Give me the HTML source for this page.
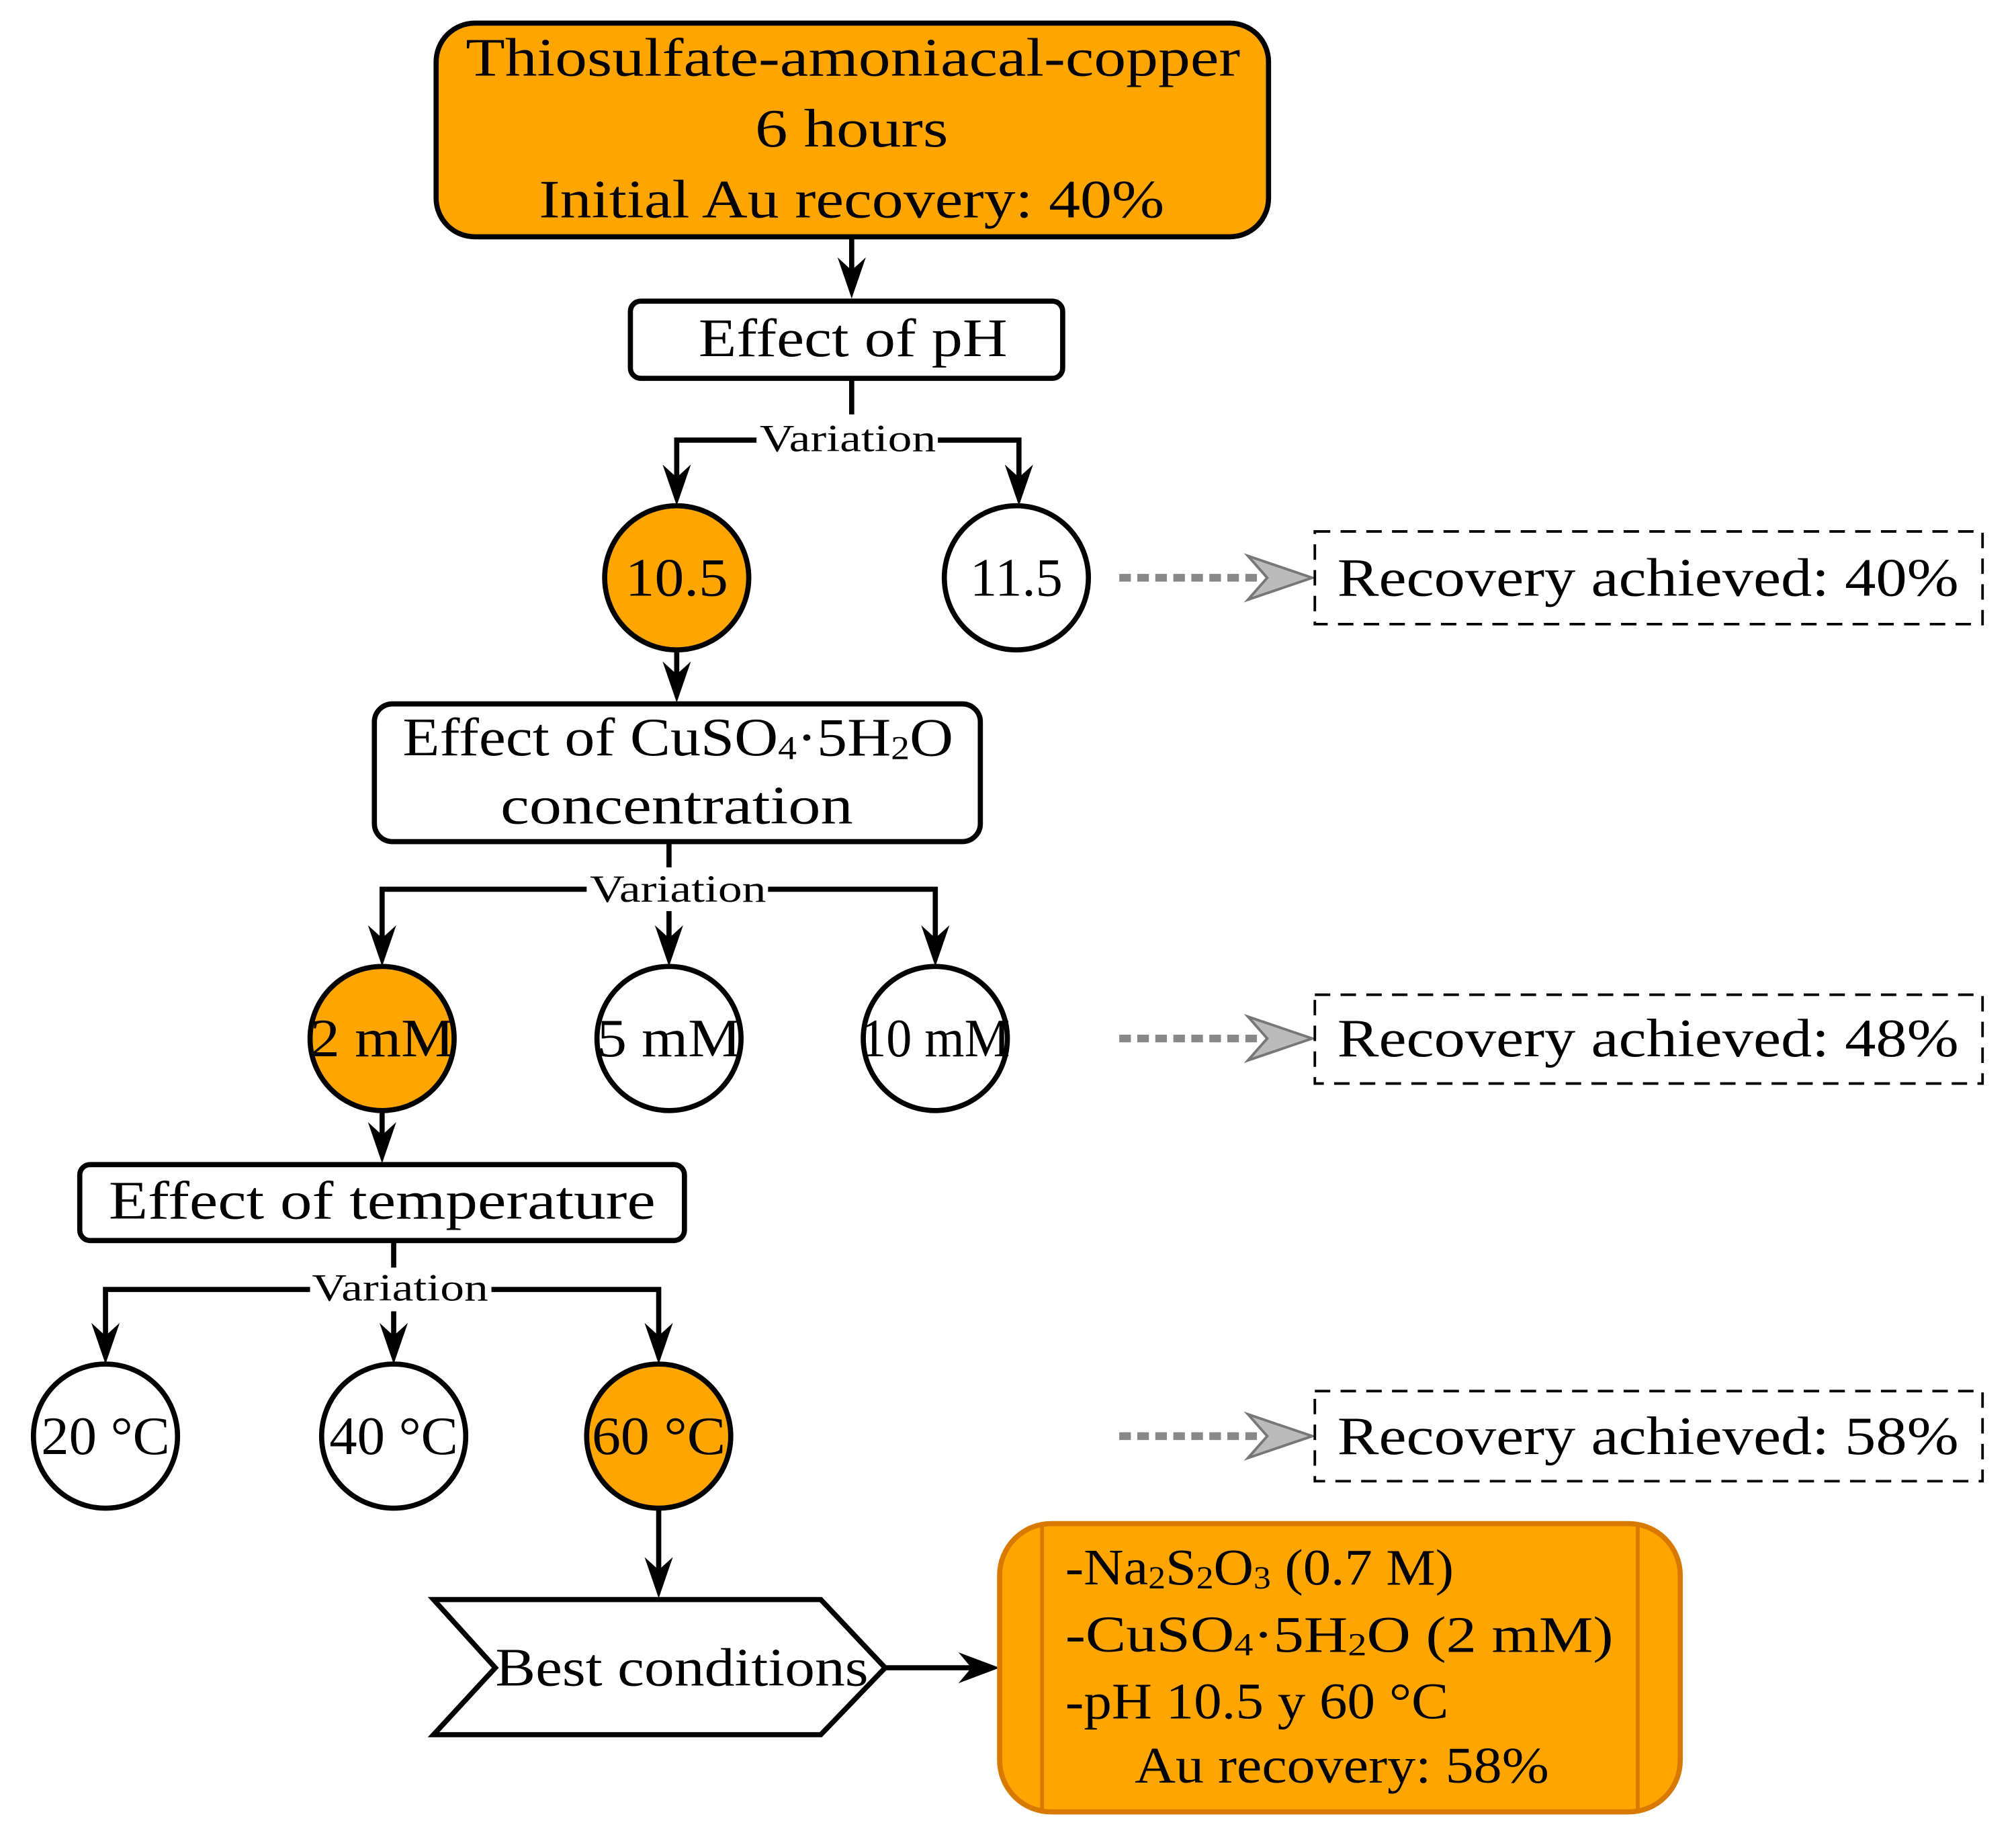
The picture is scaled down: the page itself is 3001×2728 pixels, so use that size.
<!DOCTYPE html>
<html><head><meta charset="utf-8"><style>
html,body{margin:0;padding:0;background:#fff}
svg{display:block}
text{font-family:"Liberation Serif",serif;fill:#000}
</style></head><body>
<svg width="3001" height="2728" viewBox="0 0 1567 1424.4" preserveAspectRatio="none" xmlns="http://www.w3.org/2000/svg">
<g stroke="#000" stroke-width="4" fill="none">
<rect x="339" y="18" width="647" height="166" rx="30" fill="#FFA500"/>
<line x1="662" y1="184" x2="662" y2="215"/>
<rect x="490" y="234" width="336" height="60" rx="8" fill="#fff"/>
<polyline points="662,294 662,322"/>
<polyline points="526,375 526,342 792,342 792,375"/>
<circle cx="526" cy="449" r="56" fill="#FFA500"/>
<circle cx="790" cy="449" r="56" fill="#fff"/>
<line x1="526" y1="505" x2="526" y2="528"/>
<rect x="291" y="547" width="471" height="107" rx="14" fill="#fff"/>
<line x1="520" y1="654" x2="520" y2="680"/>
<polyline points="297,732 297,691 727,691 727,732"/>
<line x1="520" y1="691" x2="520" y2="732"/>
<circle cx="297" cy="807" r="56" fill="#FFA500"/>
<circle cx="520" cy="807" r="56" fill="#fff"/>
<circle cx="727" cy="807" r="56" fill="#fff"/>
<line x1="297" y1="863" x2="297" y2="886"/>
<rect x="62" y="905" width="470" height="59" rx="8" fill="#fff"/>
<line x1="306" y1="964" x2="306" y2="992"/>
<polyline points="82,1042 82,1002 512,1002 512,1042"/>
<line x1="306" y1="1002" x2="306" y2="1042"/>
<circle cx="82" cy="1116" r="56" fill="#fff"/>
<circle cx="306" cy="1116" r="56" fill="#fff"/>
<circle cx="512" cy="1116" r="56" fill="#FFA500"/>
<line x1="512" y1="1172" x2="512" y2="1224"/>
<polygon points="337,1243 638,1243 688,1296 638,1348 337,1348 385,1296" fill="#fff"/>
<line x1="688" y1="1296" x2="758" y2="1296"/>
</g>
<g fill="#000">
<path d="M662,232 l-11,-32 l11,10 l11,-10 z"/>
<path d="M526,393 l-11,-32 l11,10 l11,-10 z"/>
<path d="M792,393 l-11,-32 l11,10 l11,-10 z"/>
<path d="M526,546 l-11,-32 l11,10 l11,-10 z"/>
<path d="M297,751 l-11,-32 l11,10 l11,-10 z"/>
<path d="M520,751 l-11,-32 l11,10 l11,-10 z"/>
<path d="M727,751 l-11,-32 l11,10 l11,-10 z"/>
<path d="M297,904 l-11,-32 l11,10 l11,-10 z"/>
<path d="M82,1060 l-11,-32 l11,10 l11,-10 z"/>
<path d="M306,1060 l-11,-32 l11,10 l11,-10 z"/>
<path d="M512,1060 l-11,-32 l11,10 l11,-10 z"/>
<path d="M512,1242 l-11,-32 l11,10 l11,-10 z"/>
<path d="M777,1296 l-32,-12 l10,12 l-10,12 z"/>
</g>
<rect x="588" y="325" width="141" height="34" fill="#fff"/>
<rect x="456" y="674" width="141" height="34" fill="#fff"/>
<rect x="241" y="985" width="141" height="34" fill="#fff"/>
<g>
<g stroke="#888" stroke-width="6" stroke-dasharray="9,5" fill="none">
<line x1="870" y1="449" x2="978" y2="449"/>
<line x1="870" y1="807" x2="978" y2="807"/>
<line x1="870" y1="1116" x2="978" y2="1116"/>
</g>
<g fill="#bbb" stroke="#777" stroke-width="2">
<path d="M1020,449 L970,432 L985,449 L970,466 Z"/>
<path d="M1020,807 L970,790 L985,807 L970,824 Z"/>
<path d="M1020,1116 L970,1099 L985,1116 L970,1133 Z"/>
</g>
<g stroke="#000" stroke-width="2" stroke-dasharray="12,8" fill="none">
<rect x="1022" y="413" width="519" height="72"/>
<rect x="1022" y="773" width="519" height="69"/>
<rect x="1022" y="1081" width="519" height="70"/>
</g>
</g>
<rect x="777" y="1184" width="529" height="224" rx="40" fill="#FFA500" stroke="#D97A00" stroke-width="4"/>
<line x1="810" y1="1186" x2="810" y2="1406" stroke="#D97A00" stroke-width="3"/>
<line x1="1273" y1="1186" x2="1273" y2="1406" stroke="#D97A00" stroke-width="3"/>
<g font-size="42" text-anchor="middle" dominant-baseline="central">
<text x="663" y="45" textLength="602" lengthAdjust="spacingAndGlyphs">Thiosulfate-amoniacal-copper</text>
<text x="662" y="100" textLength="150" lengthAdjust="spacingAndGlyphs">6 hours</text>
<text x="662" y="155" textLength="486" lengthAdjust="spacingAndGlyphs">Initial Au recovery: 40%</text>
<text x="663" y="263" textLength="240" lengthAdjust="spacingAndGlyphs">Effect of pH</text>
<text x="526" y="449" textLength="80" lengthAdjust="spacingAndGlyphs">10.5</text>
<text x="790" y="449" textLength="72" lengthAdjust="spacingAndGlyphs">11.5</text>
<text x="527" y="573" textLength="428" lengthAdjust="spacingAndGlyphs">Effect of CuSO<tspan font-size="26" dy="8">4</tspan><tspan dy="-8">·5H</tspan><tspan font-size="26" dy="8">2</tspan><tspan dy="-8">O</tspan></text>
<text x="526" y="626" textLength="274" lengthAdjust="spacingAndGlyphs">concentration</text>
<text x="297" y="807" textLength="112" lengthAdjust="spacingAndGlyphs">2 mM</text>
<text x="520" y="807" textLength="112" lengthAdjust="spacingAndGlyphs">5 mM</text>
<text x="727" y="807" textLength="116" lengthAdjust="spacingAndGlyphs">10 mM</text>
<text x="297" y="933" textLength="425" lengthAdjust="spacingAndGlyphs">Effect of temperature</text>
<text x="82" y="1116" textLength="100" lengthAdjust="spacingAndGlyphs">20 °C</text>
<text x="306" y="1116" textLength="100" lengthAdjust="spacingAndGlyphs">40 °C</text>
<text x="512" y="1116" textLength="104" lengthAdjust="spacingAndGlyphs">60 °C</text>
<text x="530" y="1296" textLength="290" lengthAdjust="spacingAndGlyphs">Best conditions</text>
<text x="1281" y="449" textLength="483" lengthAdjust="spacingAndGlyphs">Recovery achieved: 40%</text>
<text x="1281" y="807" textLength="483" lengthAdjust="spacingAndGlyphs">Recovery achieved: 48%</text>
<text x="1281" y="1116" textLength="483" lengthAdjust="spacingAndGlyphs">Recovery achieved: 58%</text>
</g>
<g font-size="30" text-anchor="middle" dominant-baseline="central">
<text x="659" y="341" textLength="137" lengthAdjust="spacingAndGlyphs">Variation</text>
<text x="527" y="691" textLength="137" lengthAdjust="spacingAndGlyphs">Variation</text>
<text x="311" y="1001" textLength="137" lengthAdjust="spacingAndGlyphs">Variation</text>
</g>
<g font-size="40" dominant-baseline="central">
<text x="828" y="1218" textLength="302" lengthAdjust="spacingAndGlyphs">-Na<tspan font-size="25" dy="8">2</tspan><tspan dy="-8">S</tspan><tspan font-size="25" dy="8">2</tspan><tspan dy="-8">O</tspan><tspan font-size="25" dy="8">3</tspan><tspan dy="-8"> (0.7 M)</tspan></text>
<text x="828" y="1270" textLength="426" lengthAdjust="spacingAndGlyphs">-CuSO<tspan font-size="25" dy="8">4</tspan><tspan dy="-8">·5H</tspan><tspan font-size="25" dy="8">2</tspan><tspan dy="-8">O (2 mM)</tspan></text>
<text x="828" y="1322" textLength="298" lengthAdjust="spacingAndGlyphs">-pH 10.5 y 60 °C</text>
<text x="882" y="1372" textLength="322" lengthAdjust="spacingAndGlyphs">Au recovery: 58%</text>
</g>
</svg>
</body></html>
